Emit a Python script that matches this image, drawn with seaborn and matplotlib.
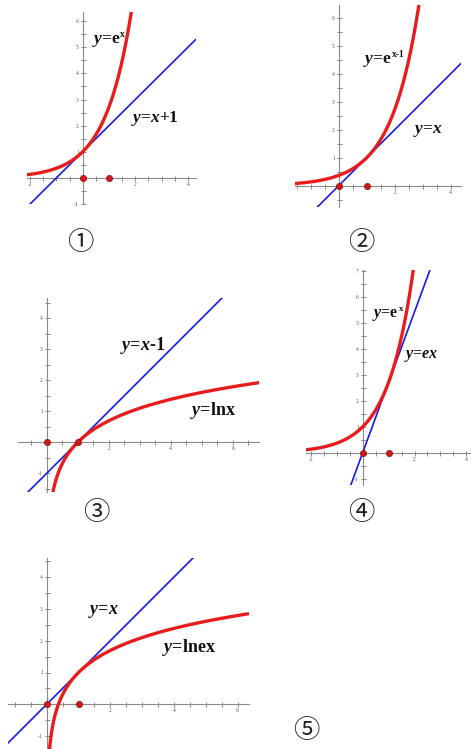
import numpy as np
import pandas as pd
import matplotlib
matplotlib.use("Agg")
import matplotlib.pyplot as plt
import seaborn as sns

sns.set_style("white")
plt.rcParams['font.family'] = ['Liberation Serif', 'DejaVu Sans']
plt.rcParams['mathtext.fontset'] = 'custom'
plt.rcParams['mathtext.rm'] = 'Liberation Serif:bold'
plt.rcParams['mathtext.it'] = 'Liberation Serif:italic:bold'
plt.rcParams['mathtext.bf'] = 'Liberation Serif:bold'

# ---------------- data ----------------
panel_numbers = ['①', '②', '③', '④', '⑤']
curve_kinds = ['exp', 'exp_shift', 'log', 'exp', 'log_e']
curve_labels = [r'$\mathit{y}$=e', r'$\mathit{y}$=e', r'$\mathit{y}$=lnx',
                r'$\mathit{y}$=e', r'$\mathit{y}$=lnex']
curve_exponents = ['x', 'x-1', '', 'x', '']
tangent_slopes = [1.0, 1.0, 1.0, np.e, 1.0]
tangent_intercepts = [1.0, 0.0, -1.0, 0.0, 0.0]
tangent_labels = [r'$\mathit{y}$=$\mathit{x}$+1',
                  r'$\mathit{y}$=$\mathit{x}$',
                  r'$\mathit{y}$=$\mathit{x}$-1',
                  r'$\mathit{y}$=$\mathit{ex}$',
                  r'$\mathit{y}$=$\mathit{x}$']
marked_x = [0, 1]
marked_y = [0, 0]
x_tick_labels = [[-2, 2, 4], [2, 4], [2, 4, 6], [-2, 2, 4], [2, 4, 6]]
y_tick_labels = [[-1, 1, 2, 3, 4, 5, 6], [1, 2, 3, 4, 5, 6], [-1, 1, 2, 3, 4],
                 [-1, 1, 2, 3, 4, 5, 6, 7], [-1, 1, 2, 3, 4]]

# ---------------- layout ----------------
W, H = 471, 749
layout = [
    dict(org=(82.7, 179.0), unit=26.3, xlim=(-2.1, 4.3), ylim=(-0.95, 6.35),
         curve_pos=(0.34, 5.25), tan_pos=(1.84, 2.28), fs=12.5, num=(80.5, 243)),
    dict(org=(338.7, 185.7), unit=28.0, xlim=(-1.56, 4.37), ylim=(-0.75, 6.45),
         curve_pos=(0.88, 4.46), tan_pos=(2.64, 1.95), fs=12.5, num=(361.7, 243)),
    dict(org=(46.7, 442.3), unit=31.0, xlim=(-0.93, 6.85), ylim=(-1.6, 4.65),
         curve_pos=(4.62, 1.02), tan_pos=(2.36, 3.12), fs=13, num=(96, 512)),
    dict(org=(362.7, 452.7), unit=25.9, xlim=(-2.17, 4.17), ylim=(-1.25, 7.05),
         curve_pos=(0.37, 5.3), tan_pos=(1.61, 3.74), fs=11.5, num=(361.7, 513)),
    dict(org=(46.7, 704.3), unit=31.8, xlim=(-1.22, 6.35), ylim=(-1.4, 4.6),
         curve_pos=(3.62, 1.78), tan_pos=(1.31, 2.92), fs=13, num=(306, 731)),
]

RED = '#e81c1c'
BLUE = '#1a1ae6'
AXC = '#8a8a8a'

fig = plt.figure(figsize=(W / 100, H / 100), dpi=100)


def curve(kind, x):
    if kind == 'exp':
        return np.exp(x)
    if kind == 'exp_shift':
        return np.exp(x - 1)
    if kind == 'log':
        return np.log(x)
    return 1 + np.log(x)


for i, L in enumerate(layout):
    ox, oy = L['org']
    u = L['unit']
    x0, x1 = L['xlim']
    y0, y1 = L['ylim']
    left = ox + x0 * u
    right = ox + x1 * u
    top = oy - y1 * u
    bottom = oy - y0 * u
    ax = fig.add_axes([left / W, 1 - bottom / H, (right - left) / W, (bottom - top) / H])
    ax.set_xlim(x0, x1)
    ax.set_ylim(y0, y1)
    ax.set_facecolor('none')

    for s in ['top', 'right']:
        ax.spines[s].set_visible(False)
    ax.spines['left'].set_position(('data', 0))
    ax.spines['bottom'].set_position(('data', 0))
    for s in ['left', 'bottom']:
        ax.spines[s].set_color(AXC)
        ax.spines[s].set_linewidth(0.8)
        ax.spines[s].set_zorder(1)
    ax.set_xticks(x_tick_labels[i])
    ax.set_xticklabels([str(v) for v in x_tick_labels[i]])
    ax.set_yticks(y_tick_labels[i])
    ax.set_yticklabels([str(v) for v in y_tick_labels[i]])
    ax.set_xticks(np.arange(np.ceil(x0 * 2) / 2, x1 + 0.01, 0.5), minor=True)
    ax.set_yticks(np.arange(np.ceil(y0 * 2) / 2, y1 + 0.01, 0.5), minor=True)
    ax.tick_params(which='both', bottom=True, left=True, top=False, right=False,
                   direction='inout', length=3.6, width=0.7,
                   color=AXC, labelsize=4, labelcolor='#555555', pad=1.0)

    kind = curve_kinds[i]
    if kind.startswith('log'):
        xs = np.linspace(0.02, x1, 800)
    else:
        xs = np.linspace(x0, x1, 800)
    ys = curve(kind, xs)
    m = (ys >= y0 - 1) & (ys <= y1 + 1)
    df_c = pd.DataFrame({'x': xs[m], 'y': ys[m]})
    df_t = pd.DataFrame({'x': [x0, x1]})
    df_t['y'] = tangent_slopes[i] * df_t['x'] + tangent_intercepts[i]

    sns.lineplot(data=df_t, x='x', y='y', ax=ax, color=BLUE, linewidth=1.2,
                 sort=False, zorder=3)
    sns.lineplot(data=df_c, x='x', y='y', ax=ax, color=RED, linewidth=2.4,
                 sort=False, zorder=4)
    sns.scatterplot(x=marked_x, y=marked_y, ax=ax, color='#d01818', s=20,
                    edgecolor='#8a1010', linewidth=0.5, zorder=6, clip_on=False)
    ax.set_xlabel('')
    ax.set_ylabel('')

    t = ax.text(*L['curve_pos'], curve_labels[i], fontsize=L['fs'], fontweight='bold',
                ha='left', va='center', color='#111111', zorder=7)
    if curve_exponents[i]:
        ax.annotate(curve_exponents[i], xy=(0.99, 0.92), xycoords=t,
                    fontsize=L['fs'] * 0.55, fontweight='bold', ha='left', va='center',
                    color='#111111', zorder=7)
    ax.text(*L['tan_pos'], tangent_labels[i], fontsize=L['fs'], fontweight='bold',
            ha='left', va='center', color='#111111', zorder=7)

    nx, ny = L['num']
    fig.text(nx / W, 1 - ny / H, panel_numbers[i], fontsize=19,
             family=['Noto Sans CJK SC', 'DejaVu Sans'], ha='center', va='center',
             color='#222222')

fig.savefig('out.png', dpi=100, facecolor='white')
